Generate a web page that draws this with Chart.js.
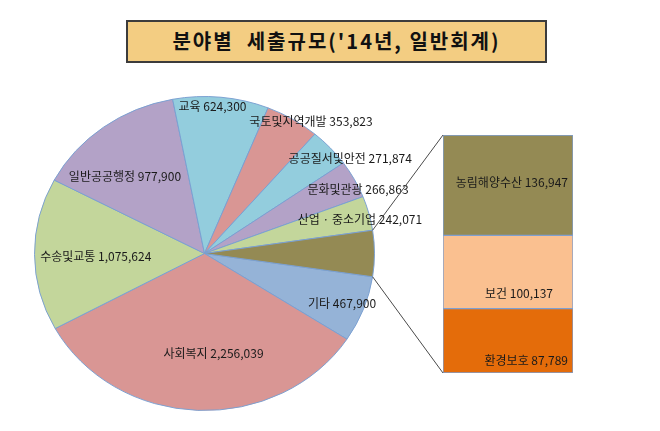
<!DOCTYPE html>
<html>
<head>
<meta charset="utf-8">
<script src="https://cdn.jsdelivr.net/npm/chart.js@4.4.0/dist/chart.umd.min.js"></script>
<style>
    html, body { margin: 0; padding: 0; background: #fff; }
    #wrap { position: relative; width: 660px; height: 431px; overflow: hidden; }
    #wrap canvas { position: absolute; left: 0; top: 0; }
    #title {
        position: absolute; left: 126px; top: 20px; width: 417px; height: 39px;
        border: 2px solid #3c3c3c; background: #f3cd82;
        font: bold 20px 'Noto Sans CJK KR'; color: #111;
        text-align: center; line-height: 37px; letter-spacing: 2px;
    }
</style>
</head>
<body>
<div id="wrap">
    <canvas id="pie-canvas" width="660" height="431"></canvas>
    <canvas id="bar-canvas" width="660" height="431"></canvas>
    <div id="title">분야별&nbsp; 세출규모('14년, 일반회계)</div>
</div>
<script>
// pie slices, clockwise from just below 3 o'clock
var pieNames = ['기타', '사회복지', '수송및교통', '일반공공행정', '교육', '국토및지역개발', '공공질서및안전', '문화및관광', '산업 · 중소기업'];
var pieValues = [467900, 2256039, 1075624, 977900, 624300, 353823, 271874, 266863, 242071];

// split-out bar, bottom to top
var barNames = ['환경보호', '보건', '농림해양수산'];
var barValues = [87789, 100137, 136947];

var otherValue = barValues.reduce(function(a, b) { return a + b; }, 0);

var pieColors = ['#95b3d7', '#d99694', '#c3d69b', '#b3a2c7', '#93cddd', '#d99694', '#93cddd', '#b3a2c7', '#c3d69b', '#948a54'];
var barColors = ['#e46c0a', '#fac090', '#948a54'];

var labelFont = "12px 'Noto Sans CJK KR'";
var squash = 157 / 170;   // pie is drawn a bit flattened

// [radius fraction, angle shift in degrees] for each pie label
var pieLabelSpots = [[0.87, 0.7], [0.64, -7], [0.64, -1.4], [0.68, -7], [0.94, -2.7], [1.05, 5.4], [1.05, 7.1], [0.99, 4], [0.94, 1.5]];
// bar labels: alignment, x shift, position inside the segment
var barLabelSpots = [
    { align: 'right', dx: -5, fy: 0.81 },
    { align: 'center', dx: 11, fy: 0.79 },
    { align: 'right', dx: -5, fy: 0.47 }
];

function fmt(v) { return v.toLocaleString('en-US'); }

var ellipsePlugin = {
    id: 'ellipse',
    beforeDatasetsDraw: function(chart) {
        var arc = chart.getDatasetMeta(0).data[0];
        var ctx = chart.ctx;
        ctx.save();
        ctx.translate(arc.x, arc.y);
        ctx.scale(1, squash);
        ctx.translate(-arc.x, -arc.y);
    },
    afterDatasetsDraw: function(chart) {
        chart.ctx.restore();
    }
};

var pieLabelPlugin = {
    id: 'pieLabels',
    afterDraw: function(chart) {
        var ctx = chart.ctx;
        var arcs = chart.getDatasetMeta(0).data;
        ctx.save();
        ctx.font = labelFont;
        ctx.fillStyle = '#1a1a1a';
        ctx.textAlign = 'center';
        ctx.textBaseline = 'middle';
        pieNames.forEach(function(name, i) {
            var arc = arcs[i];
            var spot = pieLabelSpots[i];
            var mid = (arc.startAngle + arc.endAngle) / 2 + spot[1] * Math.PI / 180;
            var r = arc.outerRadius * spot[0];
            var x = arc.x + r * Math.cos(mid);
            var y = arc.y + r * squash * Math.sin(mid);
            ctx.fillText(name + ' ' + fmt(pieValues[i]), x, y);
        });
        ctx.restore();
    }
};

var pieChart = new Chart(document.getElementById('pie-canvas').getContext('2d'), {
    type: 'pie',
    data: {
        labels: pieNames.concat(['농림해양수산 외']),
        datasets: [{
            data: pieValues.concat([otherValue]),
            backgroundColor: pieColors,
            borderColor: '#7a9fd1',
            borderWidth: 1
        }]
    },
    options: {
        responsive: false,
        animation: false,
        rotation: 90 + (otherValue / (pieValues.reduce(function(a, b) { return a + b; }, 0) + otherValue)) * 180,
        layout: { padding: { left: 34, right: 285, top: 83, bottom: 7 } },
        plugins: {
            legend: { display: false },
            tooltip: { enabled: false }
        }
    },
    plugins: [ellipsePlugin, pieLabelPlugin]
});

var barExtrasPlugin = {
    id: 'barExtras',
    afterDraw: function(chart) {
        var ctx = chart.ctx;

        // connector lines from the olive slice to the bar
        var pieArcs = pieChart.getDatasetMeta(0).data;
        var other = pieArcs[pieArcs.length - 1];
        var R = other.outerRadius;
        var topBar = chart.getDatasetMeta(barNames.length - 1).data[0];
        var bottomBar = chart.getDatasetMeta(0).data[0];
        var left = topBar.x - topBar.width / 2;
        ctx.save();
        ctx.strokeStyle = '#4a4a4a';
        ctx.lineWidth = 1;
        ctx.beginPath();
        ctx.moveTo(other.x + R * Math.cos(other.startAngle), other.y + R * squash * Math.sin(other.startAngle));
        ctx.lineTo(left, topBar.y);
        ctx.moveTo(other.x + R * Math.cos(other.endAngle), other.y + R * squash * Math.sin(other.endAngle));
        ctx.lineTo(left, bottomBar.base);
        ctx.stroke();

        // labels inside the bar
        ctx.font = labelFont;
        ctx.fillStyle = '#1a1a1a';
        ctx.textBaseline = 'middle';
        barNames.forEach(function(name, i) {
            var bar = chart.getDatasetMeta(i).data[0];
            var spot = barLabelSpots[i];
            var x = spot.align === 'right' ? bar.x + bar.width / 2 + spot.dx : bar.x + spot.dx;
            var y = bar.y + (bar.base - bar.y) * spot.fy;
            ctx.textAlign = spot.align;
            ctx.fillText(name + ' ' + fmt(barValues[i]), x, y);
        });
        ctx.restore();
    }
};

new Chart(document.getElementById('bar-canvas').getContext('2d'), {
    type: 'bar',
    data: {
        labels: [''],
        datasets: barNames.map(function(name, i) {
            return {
                label: name,
                data: [barValues[i]],
                backgroundColor: barColors[i],
                borderColor: '#7f9fd0',
                borderWidth: 1,
                borderSkipped: false,
                categoryPercentage: 1,
                barPercentage: 1
            };
        })
    },
    options: {
        responsive: false,
        animation: false,
        layout: { padding: { left: 443, right: 87, top: 135, bottom: 58 } },
        scales: {
            x: { display: false, stacked: true },
            y: { display: false, stacked: true, min: 0, max: otherValue }
        },
        plugins: {
            legend: { display: false },
            tooltip: { enabled: false }
        }
    },
    plugins: [barExtrasPlugin]
});
</script>
</body>
</html>
